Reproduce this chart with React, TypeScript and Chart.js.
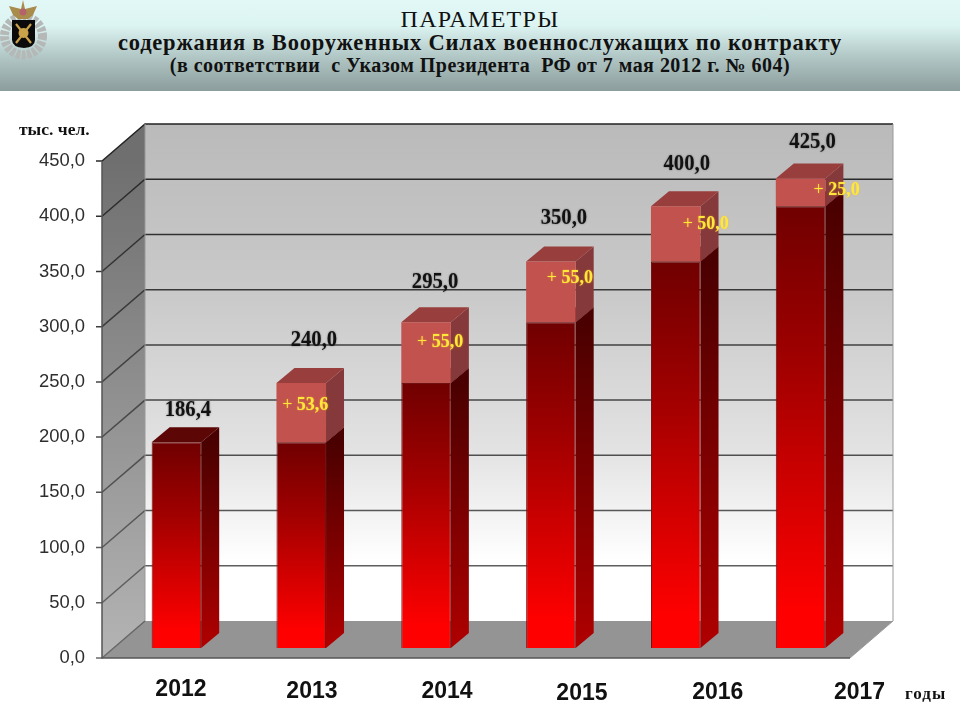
import { useEffect, useRef } from "react";
import { Chart, registerables } from "chart.js";

Chart.register(...registerables);

const years = ["2012", "2013", "2014", "2015", "2016", "2017"];
const baseValues = [186.4, 186.4, 240, 295, 350, 400];
const addedValues = [0, 53.6, 55, 55, 50, 25];
const totals = [186.4, 240, 295, 350, 400, 425];

// hand placed label offsets, the source slide has them all a bit off
const yearShiftX = [4.5, 10.7, 21, 31, 42, 59];
const yearY = [690, 692, 692, 694, 693, 693];
const totalShift = [[11.5, -32], [12.7, -43], [9, -40], [13, -44], [11, -42], [12, -37]];
const addedShift = [[0, 0], [4, 22], [14, 20], [19, 17], [30, 18], [36, 12]];

const WALL_LEFT = 102;
const WALL_RIGHT = 850;
const DEPTH_X = 43;
const DEPTH_Y = 37;
const BAR_DX = 18;
const BAR_DY = 15;
const BAR_ZERO_SHIFT = 9.06; // bars stand 10px above the front axis zero

const SERIF = '"Liberation Serif", serif';
const SANS = '"Liberation Sans", sans-serif';

const comma = (v: number) => v.toFixed(1).replace(".", ",");

function poly(ctx: CanvasRenderingContext2D, pts: number[][], fill: string | CanvasGradient) {
  ctx.beginPath();
  pts.forEach(([x, y], i) => (i ? ctx.lineTo(x, y) : ctx.moveTo(x, y)));
  ctx.closePath();
  ctx.fillStyle = fill;
  ctx.fill();
}

const boxPlugin = {
  id: "box3d",
  beforeDatasetsDraw(chart: any) {
    const { ctx } = chart;
    const y = chart.scales.y;
    const top = y.getPixelForValue(450);
    const bottom = y.getPixelForValue(0);
    const backL = WALL_LEFT + DEPTH_X;
    const backR = WALL_RIGHT + DEPTH_X;

    ctx.save();
    const back = ctx.createLinearGradient(0, top - DEPTH_Y, 0, bottom - DEPTH_Y);
    back.addColorStop(0, "#bababa");
    back.addColorStop(0.35, "#cacaca");
    back.addColorStop(0.65, "#e2e2e2");
    back.addColorStop(0.88, "#ffffff");
    back.addColorStop(1, "#ffffff");
    ctx.fillStyle = back;
    ctx.fillRect(backL, top - DEPTH_Y, backR - backL, bottom - top);

    const side = ctx.createLinearGradient(0, top, 0, bottom);
    side.addColorStop(0, "#6f6f6f");
    side.addColorStop(1, "#b4b4b4");
    poly(ctx, [[WALL_LEFT, top], [backL, top - DEPTH_Y], [backL, bottom - DEPTH_Y], [WALL_LEFT, bottom]], side);

    poly(ctx, [[WALL_LEFT, bottom], [WALL_RIGHT, bottom], [backR, bottom - DEPTH_Y], [backL, bottom - DEPTH_Y]], "#949494");

    // gridlines run over the side wall and along the back wall
    const lineColor = ctx.createLinearGradient(0, top - DEPTH_Y, 0, bottom);
    lineColor.addColorStop(0, "#222");
    lineColor.addColorStop(1, "#6a6a6a");
    ctx.lineWidth = 1.5;
    ctx.strokeStyle = lineColor;
    y.ticks.forEach((t: any) => {
      const py = y.getPixelForValue(t.value);
      ctx.beginPath();
      ctx.moveTo(WALL_LEFT - 6, py);
      ctx.lineTo(WALL_LEFT, py);
      ctx.lineTo(backL, py - DEPTH_Y);
      if (t.value > 0) ctx.lineTo(backR, py - DEPTH_Y);
      ctx.stroke();
    });

    ctx.strokeStyle = "#555";
    ctx.beginPath();
    ctx.moveTo(WALL_LEFT, top);
    ctx.lineTo(WALL_LEFT, bottom);
    ctx.lineTo(WALL_RIGHT, bottom);
    ctx.stroke();

    ctx.lineWidth = 1;
    ctx.strokeStyle = "#999";
    ctx.beginPath();
    ctx.moveTo(backR, top - DEPTH_Y);
    ctx.lineTo(backR, bottom - DEPTH_Y);
    ctx.lineTo(WALL_RIGHT, bottom);
    ctx.moveTo(backL, top - DEPTH_Y);
    ctx.lineTo(backL, bottom - DEPTH_Y);
    ctx.stroke();

    // side and top faces of the bars
    chart.getDatasetMeta(0).data.forEach((bar: any) => {
      const r = bar.x + bar.width / 2;
      const l = bar.x - bar.width / 2;
      const g = ctx.createLinearGradient(0, bar.y, 0, bar.base);
      g.addColorStop(0, "#4a0000");
      g.addColorStop(1, "#b00000");
      poly(ctx, [[r, bar.y], [r + BAR_DX, bar.y - BAR_DY], [r + BAR_DX, bar.base - BAR_DY], [r, bar.base]], g);
      poly(ctx, [[l, bar.y], [r, bar.y], [r + BAR_DX, bar.y - BAR_DY], [l + BAR_DX, bar.y - BAR_DY]], "#5c0606");
    });
    chart.getDatasetMeta(1).data.forEach((bar: any, i: number) => {
      if (!addedValues[i]) return;
      const r = bar.x + bar.width / 2;
      const l = bar.x - bar.width / 2;
      poly(ctx, [[r, bar.y], [r + BAR_DX, bar.y - BAR_DY], [r + BAR_DX, bar.base - BAR_DY], [r, bar.base]], "#86393a");
      poly(ctx, [[l, bar.y], [r, bar.y], [r + BAR_DX, bar.y - BAR_DY], [l + BAR_DX, bar.y - BAR_DY]], "#983f3e");
    });
    ctx.restore();
  },
  afterDraw(chart: any) {
    const { ctx } = chart;
    const x = chart.scales.x;
    ctx.save();
    ctx.textAlign = "center";
    ctx.textBaseline = "middle";

    // year labels drift right of their bars in the original
    ctx.fillStyle = "#111";
    ctx.font = `bold 23px ${SANS}`;
    years.forEach((label, i) => {
      ctx.fillText(label, x.getPixelForValue(i) + yearShiftX[i], yearY[i]);
    });

    // totals above the bars
    const tops = chart.getDatasetMeta(1).data;
    ctx.font = `bold 24px ${SERIF}`;
    totals.forEach((v, i) => {
      const bar = tops[i];
      ctx.save();
      ctx.translate(bar.x + totalShift[i][0], bar.y + totalShift[i][1]);
      ctx.scale(0.86, 1);
      ctx.shadowColor = "rgba(0,0,0,0.45)";
      ctx.shadowBlur = 2;
      ctx.fillStyle = "#111";
      ctx.fillText(comma(v), 0, 0);
      ctx.restore();
    });

    // yellow increments, thin plus sign and bold number
    ctx.fillStyle = "#ffe83a";
    ctx.textAlign = "left";
    ctx.shadowColor = "rgba(255,190,40,0.7)";
    ctx.shadowBlur = 2;
    addedValues.forEach((v, i) => {
      if (!v) return;
      const bar = tops[i];
      const plus = "+ ";
      const num = comma(v);
      ctx.font = `18px ${SERIF}`;
      const plusW = ctx.measureText(plus).width;
      ctx.font = `bold 18px ${SERIF}`;
      const numW = ctx.measureText(num).width;
      const left = bar.x + addedShift[i][0] - (plusW + numW) / 2;
      const py = bar.y + addedShift[i][1];
      ctx.fillText(num, left + plusW, py);
      ctx.font = `18px ${SERIF}`;
      ctx.fillText(plus, left, py);
    });
    ctx.shadowBlur = 0;

    ctx.fillStyle = "#111";
    ctx.font = `bold 17.5px ${SERIF}`;
    ctx.fillText("тыс. чел.", 19, 130);
    ctx.font = `bold 17px ${SERIF}`;
    ctx.letterSpacing = "1px";
    ctx.fillText("годы", 905, 695);
    ctx.restore();
  },
};

function Emblem() {
  return (
    <svg width="50" height="62" style={{ position: "absolute", left: 0, top: 0 }}>
      <circle cx="23.5" cy="36" r="19" fill="none" stroke="#b4b8b6" strokeWidth="9" strokeDasharray="4 1.5" />
      <path d="M23 0 L25 9 L37 6 L33 15 L28 19 L18 19 L13 15 L9 6 L21 9 Z" fill="#a98c4c" />
      <circle cx="23" cy="12" r="3.5" fill="#b5636a" />
      <path d="M12 20 H35 V40 Q35 47 24 48 Q12 47 12 40 Z" fill="#0b0b0b" />
      <path d="M16 43 L31 24 M31 43 L16 24" stroke="#c9a24a" strokeWidth="2.2" />
      <circle cx="23.5" cy="33" r="5" fill="#c9a24a" />
    </svg>
  );
}

export default function App() {
  const canvasRef = useRef<HTMLCanvasElement | null>(null);

  useEffect(() => {
    if (!canvasRef.current) return;

    const chart = new Chart(canvasRef.current, {
      type: "bar",
      data: {
        labels: years,
        datasets: [
          {
            data: baseValues,
            yAxisID: "y1",
            backgroundColor: (c: any) => {
              const scale = c.chart.scales.y1;
              if (!scale || c.raw == null) return "#a00000";
              const from = scale.getPixelForValue(c.raw);
              const to = scale.getPixelForValue(0);
              // scales have no pixels yet on the first option pass
              if (!Number.isFinite(from) || !Number.isFinite(to)) return "#a00000";
              const g = c.chart.ctx.createLinearGradient(0, from, 0, to);
              g.addColorStop(0, "#700000");
              g.addColorStop(0.35, "#a00000");
              g.addColorStop(0.92, "#ff0000");
              g.addColorStop(1, "#ff0000");
              return g;
            },
            borderColor: "#6e1212",
            borderWidth: 1,
          },
          {
            data: addedValues,
            yAxisID: "y1",
            backgroundColor: "#c1524e",
          },
        ],
      },
      options: {
        responsive: false,
        animation: false,
        layout: { padding: { top: 161, bottom: 62, right: 97, left: 0 } },
        plugins: { legend: { display: false }, title: { display: false }, tooltip: { enabled: false } },
        datasets: { bar: { categoryPercentage: 1, barPercentage: 0.397 } },
        scales: {
          x: { stacked: true, display: false },
          y: {
            position: "left",
            min: 0,
            max: 450,
            grid: { display: false, drawTicks: false },
            border: { display: false },
            afterFit: (s: any) => {
              s.width = 114;
            },
            ticks: {
              stepSize: 50,
              padding: 29,
              color: "#2e2e2e",
              font: { family: "Liberation Sans", size: 18.4 },
              callback: (v: any) => comma(Number(v)),
            },
          },
          y1: {
            display: false,
            stacked: true,
            min: -BAR_ZERO_SHIFT,
            max: 450 - BAR_ZERO_SHIFT,
          },
        },
      } as any,
      plugins: [boxPlugin],
    });

    return () => chart.destroy();
  }, []);

  const titleLine = { position: "absolute", left: 0, width: 960, textAlign: "center", color: "#111", whiteSpace: "pre" } as const;

  return (
    <div style={{ position: "absolute", left: 0, top: 0, width: 960, height: 720, background: "#fff", overflow: "hidden", fontFamily: SERIF }}>
      <div
        style={{
          position: "absolute",
          left: 0,
          top: 0,
          width: 960,
          height: 91,
          background: "linear-gradient(#e2f8f7 0%, #dcf4f2 28%, #b4cac8 60%, #8b9d9c 100%)",
        }}
      >
        <Emblem />
        <div style={{ ...titleLine, top: 6, fontSize: 24, lineHeight: "26px", letterSpacing: "1.3px" }}>ПАРАМЕТРЫ</div>
        <div style={{ ...titleLine, top: 30, fontSize: 22.5, lineHeight: "25px", fontWeight: "bold", letterSpacing: "0.8px" }}>
          содержания в Вооруженных Силах военнослужащих по контракту
        </div>
        <div style={{ ...titleLine, top: 53, fontSize: 20, lineHeight: "24px", fontWeight: "bold", letterSpacing: "0.48px" }}>
          {"(в соответствии  с Указом Президента  РФ от 7 мая 2012 г. № 604)"}
        </div>
      </div>
      <canvas ref={canvasRef} width={960} height={720} style={{ position: "absolute", left: 0, top: 0 }} />
    </div>
  );
}
